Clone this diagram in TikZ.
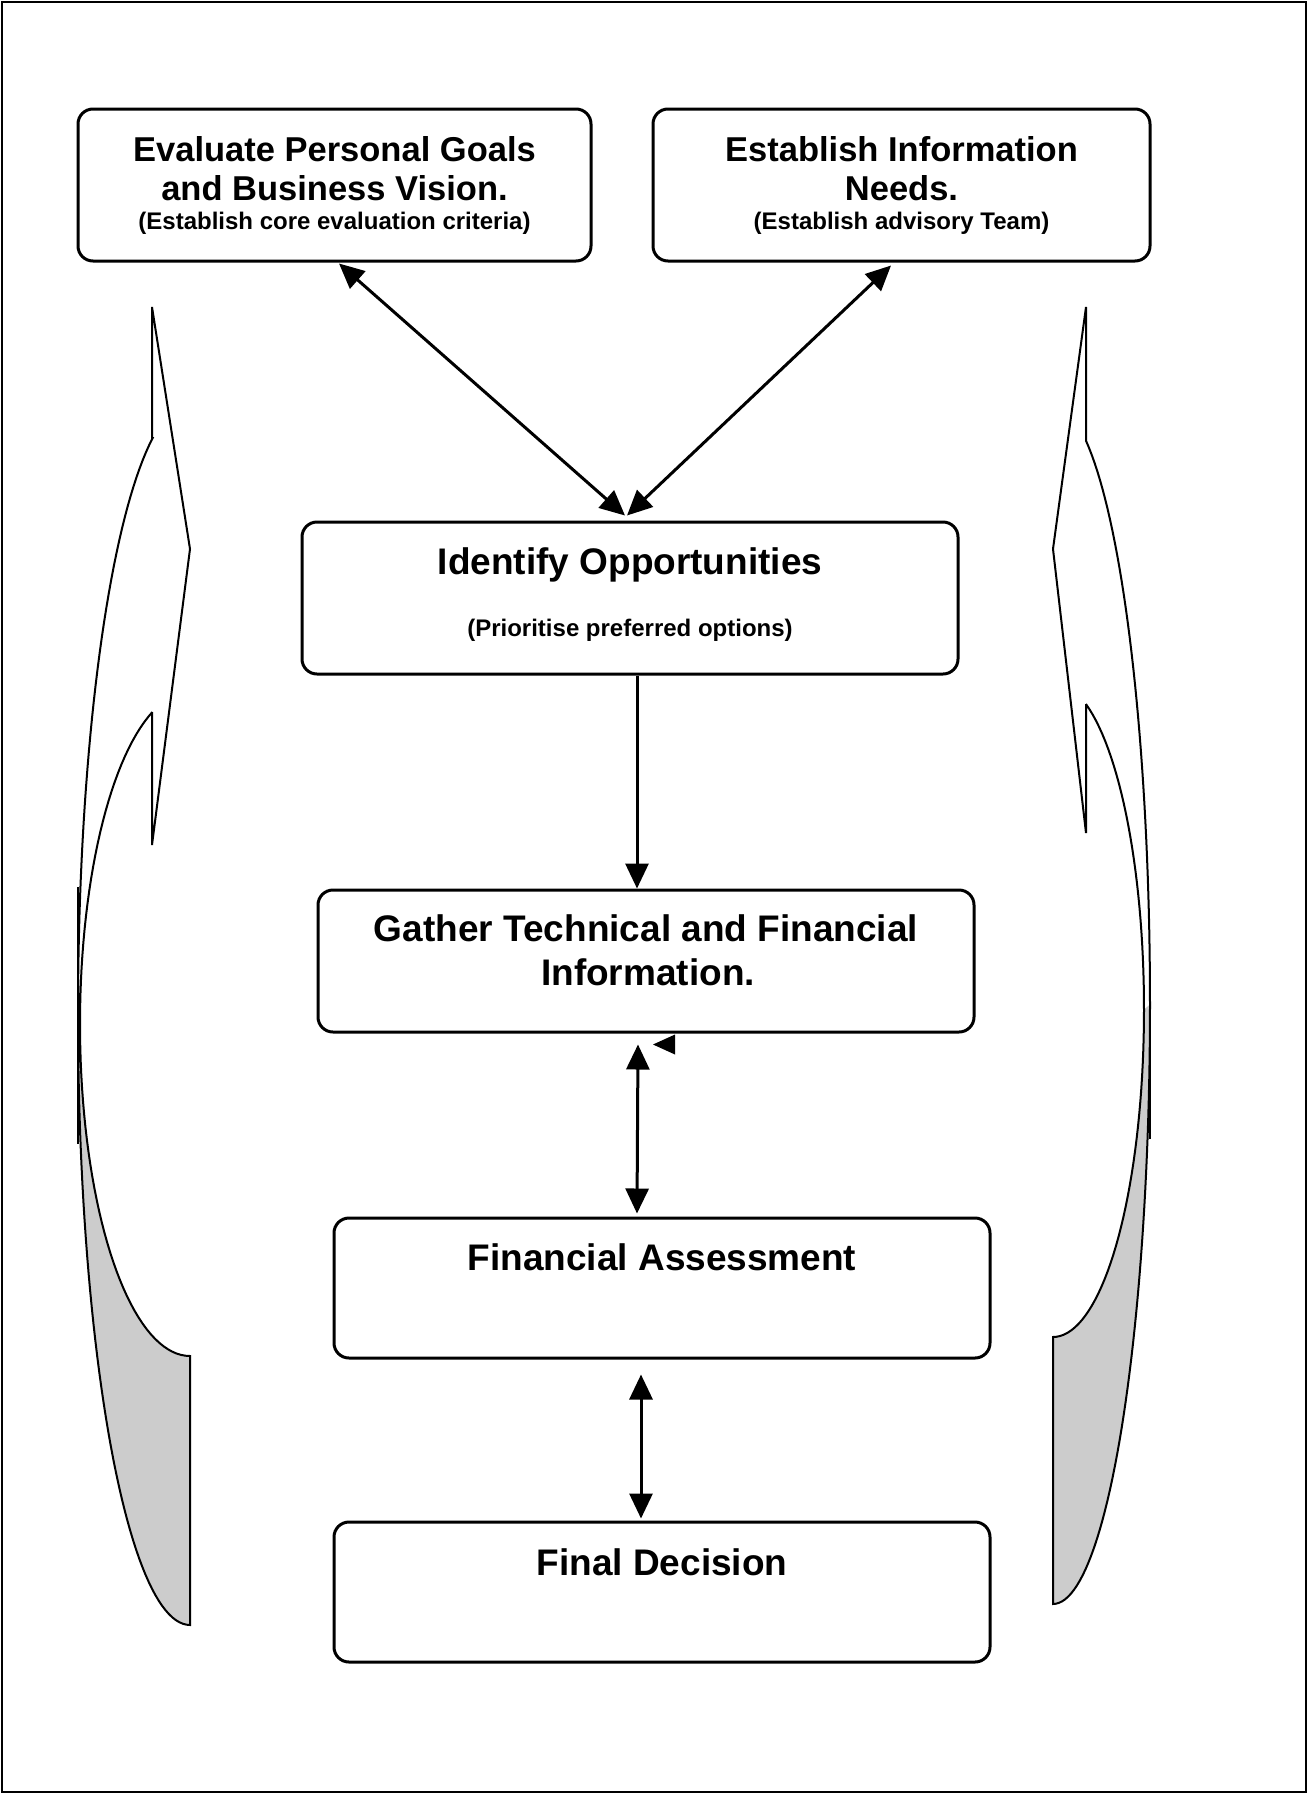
\documentclass[tikz,border=0pt]{standalone}
\usepackage{fontspec}
\setmainfont{Liberation Sans}
\usetikzlibrary{arrows.meta}
\definecolor{shadegrey}{HTML}{CCCCCC}
\begin{document}
\begin{tikzpicture}[x=1pt,y=-1pt,
  box/.style={draw, line width=3pt, rounded corners=15pt, inner sep=0pt},
  bigtop/.style={anchor=base, inner sep=0pt, font=\bfseries\fontsize{34.5}{40}\selectfont},
  smalltop/.style={anchor=base, inner sep=0pt, font=\bfseries\fontsize{24}{28}\selectfont},
  bigtxt/.style={anchor=base, inner sep=0pt, font=\bfseries\fontsize{37}{44}\selectfont},
  smalltxt/.style={anchor=base, inner sep=0pt, font=\bfseries\fontsize{24}{28}\selectfont},
  tip/.tip={Triangle[length=25pt,width=23pt]},
  arr/.style={line width=3pt, -tip},
  darr/.style={line width=3pt, tip-tip},
  shapeline/.style={draw=black, line width=2pt, line join=miter}
]
\useasboundingbox (0,0) rectangle (1308,1794);
\draw[line width=2pt] (2,2) rectangle (1306,1792);

% ---- curved side arrows: left ----
\fill[shadegrey] plot[domain=0:90,samples=40] ({190-112*cos(\x)},{1014+611*sin(\x)})
  -- plot[domain=90:0,samples=40] ({190-110*cos(\x)},{1024+332*sin(\x)}) -- cycle;
\draw[shapeline] (152,712) -- (152,845) -- (190,549) -- (152,307) -- (152,438)
  -- plot[domain=-70.5:90,samples=90] ({190-112*cos(\x)},{1014+611*sin(\x)})
  -- (190,1356)
  -- plot[domain=90:-70,samples=70] ({190-110*cos(\x)},{1024+332*sin(\x)});
\draw[shapeline] (78,887) -- (78,1144);

% ---- curved side arrows: right ----
\fill[shadegrey] plot[domain=0:90,samples=40] ({1053+97*cos(\x)},{1004.5+599.5*sin(\x)})
  -- plot[domain=90:0,samples=40] ({1053+91*cos(\x)},{1009.4+327.6*sin(\x)}) -- cycle;
\draw[shapeline] (1086,704) -- (1086,833) -- (1053,549) -- (1086,307) -- (1086,441)
  -- plot[domain=-70:90,samples=90] ({1053+97*cos(\x)},{1004.5+599.5*sin(\x)})
  -- (1053,1337)
  -- plot[domain=90:-68.8,samples=70] ({1053+91*cos(\x)},{1009.4+327.6*sin(\x)});
\draw[shapeline] (1150,996) -- (1150,1139);

% ---- boxes ----
\node[box, minimum width=513pt, minimum height=152pt] (eval) at (334.5,185) {};
\node[box, minimum width=497pt, minimum height=152pt] (estab) at (901.5,185) {};
\node[box, minimum width=656pt, minimum height=152pt] (ident) at (630,598) {};
\node[box, minimum width=656pt, minimum height=142pt] (gather) at (646,961) {};
\node[box, minimum width=656pt, minimum height=140pt] (fin) at (662,1288) {};
\node[box, minimum width=656pt, minimum height=140pt] (final) at (662,1592) {};

% ---- texts ----
\node[bigtop] (eval1) at (334.5,161) {Evaluate Personal Goals};
\node[bigtop] (eval2) at (334.5,200) {and Business Vision.};
\node[smalltop] (eval3) at (334.5,229) {(Establish core evaluation criteria)};
\node[bigtop] (estab1) at (901.5,161) {Establish Information};
\node[bigtop] (estab2) at (901.5,200) {Needs.};
\node[smalltop] (estab3) at (901.5,229) {(Establish advisory Team)};
\node[bigtxt] (ident1) at (630,574) {Identify Opportunities};
\node[smalltxt] (ident2) at (630,636) {(Prioritise preferred options)};
\node[bigtxt] (gather1) at (646,941) {Gather Technical and Financial};
\node[bigtxt] (gather2) at (648,985) {Information.};
\node[bigtxt] (fin1) at (662,1270) {Financial Assessment};
\node[bigtxt] (final1) at (662,1575) {Final Decision};

% ---- connectors ----
\draw[darr] ([xshift=4.5pt,yshift=-1pt]eval.south) -- ([xshift=-5pt,yshift=5pt]ident.north);
\draw[darr] ([xshift=-10.5pt,yshift=-3pt]estab.south) -- ([xshift=-3pt,yshift=5pt]ident.north);
\draw[arr] ([xshift=7pt]ident.south) -- ([xshift=-9pt]gather.north);
\draw[darr] ([xshift=-8pt,yshift=-11pt]gather.south) -- ([xshift=-25pt,yshift=3pt]fin.north);
\draw[darr] ([xshift=-21pt,yshift=-15pt]fin.south) -- ([xshift=-21pt,yshift=2pt]final.north);
\coordinate (sh) at ([xshift=7pt,yshift=-11pt]gather.south);
\fill (sh) -- ++(22,-10) -- ++(0,20) -- cycle;
\end{tikzpicture}
\end{document}
